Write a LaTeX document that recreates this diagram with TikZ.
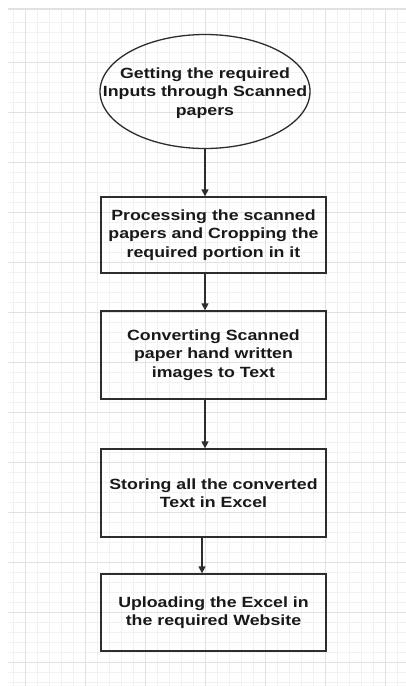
\documentclass[tikz,border=0pt]{standalone}
\usepackage{fontspec}
\newfontfamily\flowfont[FakeStretch=1.2]{Liberation Sans}
\usetikzlibrary{shapes.geometric}
\usetikzlibrary{arrows.meta}
\usetikzlibrary{calc}
\definecolor{gridminor}{RGB}{241,241,241}
\definecolor{gridmajor}{RGB}{225,225,225}
\definecolor{inkline}{RGB}{45,45,45}

\begin{document}
\begin{tikzpicture}[x=1pt,y=-1pt,
	flowtext/.style={inner sep=0pt, align=center, text=black!90, font=\flowfont\bfseries\fontsize{14.8}{18.5}\selectfont},
	stepbox/.style={flowtext, draw=inkline, line width=1.3pt, rectangle, minimum width=225},
	startbox/.style={draw=inkline, line width=1.3pt, ellipse, minimum width=210, minimum height=114, inner sep=0pt},
	flow/.style={-{Triangle[length=7pt,width=7pt]}, draw=inkline, line width=1.3pt}]
	\useasboundingbox (0,0) rectangle (406,686);
	\fill[white] (0,0) rectangle (406,686);
	
	% background grid
	\foreach \gx in {13,25,...,403} \draw[gridminor, line width=0.8pt] (\gx,9) -- (\gx,686);
	\foreach \gy in {22,32,...,682} \draw[gridminor, line width=0.8pt] (8,\gy) -- (406,\gy);
	\foreach \gx in {25,85,...,385} \draw[gridmajor, line width=1pt] (\gx,9) -- (\gx,686);
	\foreach \gy in {62,112,...,662} \draw[gridmajor, line width=1pt] (8,\gy) -- (406,\gy);
	\draw[gridmajor, line width=1.2pt] (8,9) -- (406,9);
	
	\node[startbox] (scan) at (205,91.5) {};
	\node[flowtext] (scantext) at ($(scan.center)+(0,1.5)$) {Getting the required\\Inputs through Scanned\\papers};
	\node[stepbox, minimum height=76] (crop) at (213.5,235) {Processing the scanned\\papers and Cropping the\\required portion in it};
	\node[stepbox, minimum height=88] (convert) at (213.5,355) {Converting Scanned\\paper hand written\\images to Text};
	\node[stepbox, minimum height=88] (store) at (213.5,493) {Storing all the converted\\Text in Excel};
	\node[stepbox, minimum height=77] (upload) at (213.5,612.5) {Uploading the Excel in\\the required Website};
	
	\draw[flow] (scan.south) -- (scan.south |- crop.north);
	\draw[flow] (crop.south -| scan.south) -- (convert.north -| scan.south);
	\draw[flow] (convert.south -| scan.south) -- (store.north -| scan.south);
	\draw[flow] ($(store.south -| scan.south)+(-3,0)$) -- ($(upload.north -| scan.south)+(-3,0)$);
\end{tikzpicture}
\end{document}
